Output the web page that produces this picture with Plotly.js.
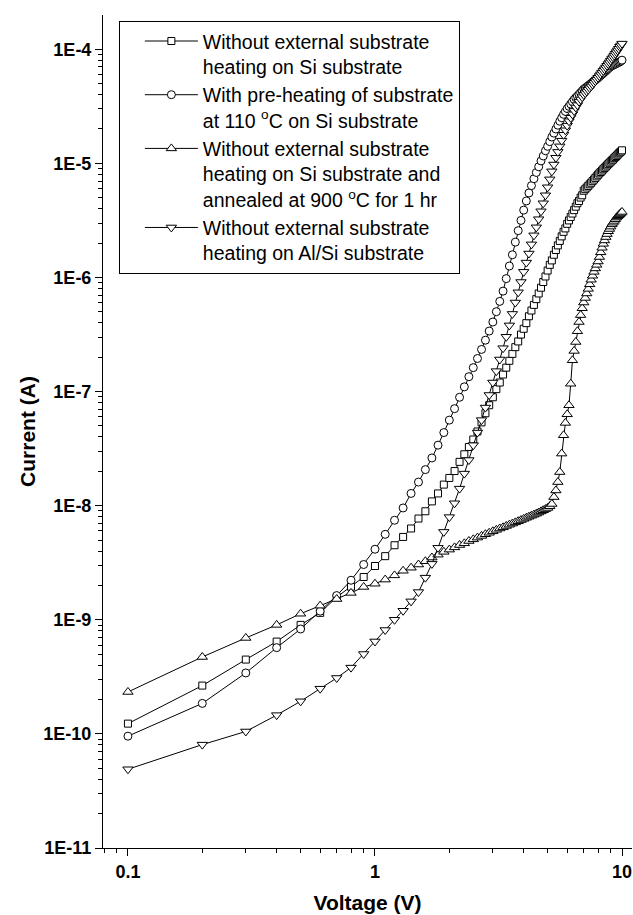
<!DOCTYPE html>
<html>
<head>
<meta charset="utf-8">
<script src="https://cdn.plot.ly/plotly-3.0.1.min.js"></script>
<style>html,body{margin:0;padding:0;background:#fff;}#chart{width:633px;height:915px;}</style>
</head>
<body>
<div id="chart"></div>
<script>
var voltage = [0.1,0.2,0.3,0.4,0.5,0.6,0.7,0.8,0.9,1.0,
1.1,1.2,1.3,1.4,1.5,1.6,1.7,1.8,1.9,2.0,
2.1,2.2,2.3,2.4,2.5,2.6,2.7,2.8,2.9,3.0,
3.1,3.2,3.3,3.4,3.5,3.6,3.7,3.8,3.9,4.0,
4.1,4.2,4.3,4.4,4.5,4.6,4.7,4.8,4.9,5.0,
5.1,5.2,5.3,5.4,5.5,5.6,5.7,5.8,5.9,6.0,
6.1,6.2,6.3,6.4,6.5,6.6,6.7,6.8,6.9,7.0,
7.1,7.2,7.3,7.4,7.5,7.6,7.7,7.8,7.9,8.0,
8.1,8.2,8.3,8.4,8.5,8.6,8.7,8.8,8.9,9.0,
9.1,9.2,9.3,9.4,9.5,9.6,9.7,9.8,9.9,10.0];

// Without external substrate heating on Si substrate (squares)
var currentSiNoHeat = [1.23e-10,2.65e-10,4.48e-10,6.44e-10,9.02e-10,1.15e-9,1.58e-9,1.95e-9,2.37e-9,2.96e-9,
3.61e-9,4.50e-9,5.32e-9,6.31e-9,7.71e-9,8.93e-9,1.09e-8,1.28e-8,1.53e-8,1.75e-8,
2.01e-8,2.42e-8,2.82e-8,3.27e-8,3.80e-8,4.47e-8,5.37e-8,6.46e-8,7.59e-8,8.91e-8,
1.05e-7,1.20e-7,1.41e-7,1.62e-7,1.86e-7,2.14e-7,2.45e-7,2.75e-7,3.16e-7,3.55e-7,
3.98e-7,4.57e-7,5.13e-7,5.75e-7,6.46e-7,7.24e-7,8.13e-7,9.12e-7,1.02e-6,1.15e-6,
1.29e-6,1.41e-6,1.58e-6,1.74e-6,1.91e-6,2.09e-6,2.29e-6,2.51e-6,2.69e-6,2.95e-6,
3.16e-6,3.39e-6,3.63e-6,3.89e-6,4.17e-6,4.47e-6,4.68e-6,5.01e-6,5.25e-6,5.75e-6,
5.94e-6,6.14e-6,6.34e-6,6.55e-6,6.76e-6,6.98e-6,7.21e-6,7.45e-6,7.69e-6,7.94e-6,
8.17e-6,8.39e-6,8.63e-6,8.87e-6,9.12e-6,9.35e-6,9.59e-6,9.84e-6,1.01e-5,1.035e-5,
1.06e-5,1.08e-5,1.11e-5,1.135e-5,1.16e-5,1.19e-5,1.22e-5,1.245e-5,1.27e-5,1.30e-5];

// With pre-heating of substrate at 110 C on Si substrate (circles)
var currentSiPreHeat = [9.55e-11,1.85e-10,3.42e-10,5.70e-10,8.30e-10,1.19e-9,1.63e-9,2.22e-9,3.05e-9,4.15e-9,
5.61e-9,7.45e-9,9.55e-9,1.28e-8,1.61e-8,2.07e-8,2.62e-8,3.39e-8,4.37e-8,5.62e-8,
7.08e-8,8.91e-8,1.10e-7,1.35e-7,1.62e-7,1.95e-7,2.34e-7,2.82e-7,3.39e-7,4.07e-7,
5.01e-7,6.17e-7,7.59e-7,9.77e-7,1.26e-6,1.58e-6,2.04e-6,2.57e-6,3.16e-6,3.89e-6,
4.68e-6,5.50e-6,6.38e-6,7.33e-6,8.32e-6,9.33e-6,1.05e-5,1.16e-5,1.29e-5,1.41e-5,
1.55e-5,1.70e-5,1.84e-5,2.00e-5,2.16e-5,2.34e-5,2.51e-5,2.69e-5,2.85e-5,3.02e-5,
3.16e-5,3.31e-5,3.47e-5,3.63e-5,3.76e-5,3.89e-5,4.03e-5,4.17e-5,4.32e-5,4.47e-5,
4.57e-5,4.68e-5,4.79e-5,4.90e-5,5.01e-5,5.13e-5,5.25e-5,5.37e-5,5.50e-5,5.62e-5,
5.75e-5,5.89e-5,6.03e-5,6.17e-5,6.31e-5,6.46e-5,6.61e-5,6.76e-5,6.92e-5,7.08e-5,
7.16e-5,7.24e-5,7.33e-5,7.41e-5,7.50e-5,7.59e-5,7.67e-5,7.76e-5,7.89e-5,8.02e-5];

// Without external substrate heating on Si, annealed at 900 C for 1 hr (up triangles)
var currentSiAnnealed = [2.33e-10,4.72e-10,6.93e-10,9.02e-10,1.13e-9,1.33e-9,1.52e-9,1.72e-9,1.94e-9,2.07e-9,
2.25e-9,2.45e-9,2.69e-9,2.86e-9,3.05e-9,3.26e-9,3.51e-9,3.72e-9,3.94e-9,4.12e-9,
4.31e-9,4.52e-9,4.68e-9,4.90e-9,5.07e-9,5.25e-9,5.43e-9,5.62e-9,5.79e-9,5.96e-9,
6.14e-9,6.31e-9,6.46e-9,6.64e-9,6.81e-9,6.97e-9,7.14e-9,7.31e-9,7.48e-9,7.66e-9,
7.83e-9,8.00e-9,8.17e-9,8.34e-9,8.51e-9,8.71e-9,8.91e-9,9.12e-9,9.33e-9,9.55e-9,
9.89e-9,1.035e-8,1.19e-8,1.36e-8,1.61e-8,1.97e-8,2.86e-8,4.14e-8,5.31e-8,6.32e-8,
7.59e-8,1.17e-7,1.88e-7,2.27e-7,2.72e-7,3.38e-7,4.07e-7,4.68e-7,5.37e-7,6.03e-7,
6.61e-7,7.24e-7,7.94e-7,8.71e-7,9.55e-7,1.035e-6,1.12e-6,1.20e-6,1.29e-6,1.38e-6,
1.51e-6,1.66e-6,1.82e-6,1.97e-6,2.11e-6,2.26e-6,2.40e-6,2.54e-6,2.66e-6,2.79e-6,
2.92e-6,3.02e-6,3.13e-6,3.24e-6,3.35e-6,3.43e-6,3.51e-6,3.59e-6,3.67e-6,3.75e-6];

// Without external substrate heating on Al/Si substrate (down triangles)
var currentAlSi = [4.90e-11,8.05e-11,1.05e-10,1.46e-10,1.93e-10,2.49e-10,3.09e-10,3.81e-10,5.01e-10,6.46e-10,
8.13e-10,1.00e-9,1.20e-9,1.45e-9,1.75e-9,2.34e-9,3.09e-9,4.27e-9,5.89e-9,7.94e-9,
1.05e-8,1.41e-8,1.91e-8,2.51e-8,3.39e-8,4.37e-8,5.62e-8,7.24e-8,9.33e-8,1.20e-7,
1.51e-7,1.91e-7,2.40e-7,3.02e-7,3.80e-7,4.79e-7,6.03e-7,7.41e-7,9.12e-7,1.12e-6,
1.35e-6,1.62e-6,1.95e-6,2.34e-6,2.75e-6,3.24e-6,3.80e-6,4.47e-6,5.25e-6,6.17e-6,
7.24e-6,8.51e-6,9.77e-6,1.12e-5,1.26e-5,1.41e-5,1.58e-5,1.78e-5,1.95e-5,2.14e-5,
2.34e-5,2.51e-5,2.69e-5,2.88e-5,3.09e-5,3.24e-5,3.47e-5,3.63e-5,3.80e-5,3.98e-5,
4.12e-5,4.27e-5,4.42e-5,4.57e-5,4.73e-5,4.90e-5,5.07e-5,5.25e-5,5.43e-5,5.62e-5,
5.82e-5,6.03e-5,6.24e-5,6.46e-5,6.68e-5,6.92e-5,7.16e-5,7.41e-5,7.67e-5,7.94e-5,
8.22e-5,8.51e-5,8.81e-5,9.12e-5,9.44e-5,9.77e-5,1.01e-4,1.05e-4,1.08e-4,1.12e-4];

var seriesNames = [
  'Without external substrate<br>heating on Si substrate',
  'With pre-heating of substrate<br>at 110 <sup>o</sup>C on Si substrate',
  'Without external substrate<br>heating on Si substrate and<br>annealed at 900 <sup>o</sup>C for 1 hr',
  'Without external substrate<br>heating on Al/Si substrate'
];
var seriesSymbols = ['square','circle','triangle-up','triangle-down'];
var seriesSizes = [7,8,9,9];
var seriesData = [currentSiNoHeat, currentSiPreHeat, currentSiAnnealed, currentAlSi];

var yTickVals = [1e-11,1e-10,1e-9,1e-8,1e-7,1e-6,1e-5,1e-4];
var yTickText = ['1E-11','1E-10','1E-9','1E-8','1E-7','1E-6','1E-5','1E-4'];
var xTickVals = [0.1,1,10];
var xTickText = ['0.1','1','10'];

var traces = seriesData.map(function(d,i){
  return {
    x: voltage, y: d, name: seriesNames[i], type: 'scatter', mode: 'lines+markers',
    line: {color: '#000', width: 1},
    marker: {symbol: seriesSymbols[i], size: seriesSizes[i], color: '#fff', line: {color: '#000', width: 1}}
  };
});

var FONT = '"Liberation Sans", Arial, Helvetica, sans-serif';
var layout = {
  width: 633, height: 915,
  margin: {l: 103, r: 1, t: 15, b: 67},
  paper_bgcolor: '#fff', plot_bgcolor: '#fff',
  font: {family: FONT, color: '#000'},
  showlegend: true,
  legend: {
    x: 0.03, y: 0.993, xanchor: 'left', yanchor: 'top',
    bordercolor: '#000', borderwidth: 1, bgcolor: '#fff',
    font: {family: FONT, size: 19.5, color: '#000'},
    valign: 'top', tracegroupgap: 0,
    indentation: 20, itemwidth: 53,
    entrywidth: 280, entrywidthmode: 'pixels'
  },
  xaxis: {
    type: 'log', range: [-1.101, 1.0405],
    showline: true, linecolor: '#000', linewidth: 1, mirror: false,
    showgrid: false, zeroline: false,
    ticks: 'outside', ticklen: 7, tickcolor: '#000', tickwidth: 1,
    tickmode: 'array', tickvals: xTickVals, ticktext: xTickText,
    tickfont: {family: FONT, size: 18, color: '#000', weight: 'bold'},
    minor: {ticks: 'outside', ticklen: 4, tickcolor: '#000', dtick: 'D1', showgrid: false},
    title: {text: '<b>Voltage (V)</b>', font: {family: FONT, size: 21, color: '#000'}, standoff: 14}
  },
  yaxis: {
    type: 'log', range: [-11, -3.70],
    showline: true, linecolor: '#000', linewidth: 1, mirror: false,
    showgrid: false, zeroline: false,
    ticks: 'outside', ticklen: 7, tickcolor: '#000', tickwidth: 1,
    tickmode: 'array', tickvals: yTickVals, ticktext: yTickText,
    tickfont: {family: FONT, size: 18, color: '#000', weight: 'bold'},
    minor: {ticks: 'outside', ticklen: 4, tickcolor: '#000', dtick: 'D1', showgrid: false},
    title: {text: '<b>Current (A)</b>', font: {family: FONT, size: 21, color: '#000'}, standoff: 2}
  }
};

Plotly.newPlot('chart', traces, layout, {displayModeBar: false, staticPlot: true});
</script>
</body>
</html>
